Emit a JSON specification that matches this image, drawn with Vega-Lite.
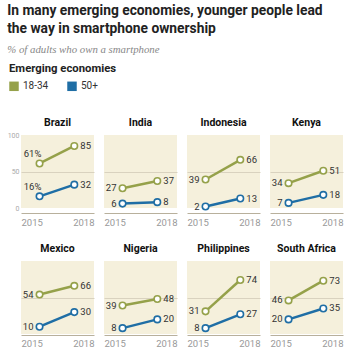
{
  "$schema": "https://vega.github.io/schema/vega-lite/v6.json",
  "padding": {"left": 7, "top": 3, "right": 4, "bottom": 0},
  "background": "white",
  "title": {
    "text": ["In many emerging economies, younger people lead", "the way in smartphone ownership"],
    "subtitle": "% of adults who own a smartphone",
    "anchor": "start",
    "font": "Roboto",
    "fontSize": 13.8,
    "fontWeight": "bold",
    "lineHeight": 18,
    "color": "#222",
    "subtitleFont": "Liberation Serif",
    "subtitleFontStyle": "italic",
    "subtitleFontSize": 10.8,
    "subtitleColor": "#888",
    "subtitlePadding": 8.5,
    "offset": 8
  },
  "data": {
    "values": [
      {"country": "Brazil", "group": "18-34", "year": 2015, "pct": 61, "label": "61%"},
      {"country": "Brazil", "group": "18-34", "year": 2018, "pct": 85, "label": "85"},
      {"country": "Brazil", "group": "50+", "year": 2015, "pct": 16, "label": "16%"},
      {"country": "Brazil", "group": "50+", "year": 2018, "pct": 32, "label": "32"},
      {"country": "India", "group": "18-34", "year": 2015, "pct": 27, "label": "27"},
      {"country": "India", "group": "18-34", "year": 2018, "pct": 37, "label": "37"},
      {"country": "India", "group": "50+", "year": 2015, "pct": 6, "label": "6"},
      {"country": "India", "group": "50+", "year": 2018, "pct": 8, "label": "8"},
      {"country": "Indonesia", "group": "18-34", "year": 2015, "pct": 39, "label": "39"},
      {"country": "Indonesia", "group": "18-34", "year": 2018, "pct": 66, "label": "66"},
      {"country": "Indonesia", "group": "50+", "year": 2015, "pct": 2, "label": "2"},
      {"country": "Indonesia", "group": "50+", "year": 2018, "pct": 13, "label": "13"},
      {"country": "Kenya", "group": "18-34", "year": 2015, "pct": 34, "label": "34"},
      {"country": "Kenya", "group": "18-34", "year": 2018, "pct": 51, "label": "51"},
      {"country": "Kenya", "group": "50+", "year": 2015, "pct": 7, "label": "7"},
      {"country": "Kenya", "group": "50+", "year": 2018, "pct": 18, "label": "18"},
      {"country": "Mexico", "group": "18-34", "year": 2015, "pct": 54, "label": "54"},
      {"country": "Mexico", "group": "18-34", "year": 2018, "pct": 66, "label": "66"},
      {"country": "Mexico", "group": "50+", "year": 2015, "pct": 10, "label": "10"},
      {"country": "Mexico", "group": "50+", "year": 2018, "pct": 30, "label": "30"},
      {"country": "Nigeria", "group": "18-34", "year": 2015, "pct": 39, "label": "39"},
      {"country": "Nigeria", "group": "18-34", "year": 2018, "pct": 48, "label": "48"},
      {"country": "Nigeria", "group": "50+", "year": 2015, "pct": 8, "label": "8"},
      {"country": "Nigeria", "group": "50+", "year": 2018, "pct": 20, "label": "20"},
      {"country": "Philippines", "group": "18-34", "year": 2015, "pct": 31, "label": "31"},
      {"country": "Philippines", "group": "18-34", "year": 2018, "pct": 74, "label": "74"},
      {"country": "Philippines", "group": "50+", "year": 2015, "pct": 8, "label": "8"},
      {"country": "Philippines", "group": "50+", "year": 2018, "pct": 27, "label": "27"},
      {"country": "South Africa", "group": "18-34", "year": 2015, "pct": 46, "label": "46"},
      {"country": "South Africa", "group": "18-34", "year": 2018, "pct": 73, "label": "73"},
      {"country": "South Africa", "group": "50+", "year": 2015, "pct": 20, "label": "20"},
      {"country": "South Africa", "group": "50+", "year": 2018, "pct": 35, "label": "35"}
    ]
  },
  "spacing": 16,
  "vconcat": [
    {
      "transform": [{"filter": {"field": "country", "oneOf": ["Brazil", "India", "Indonesia", "Kenya"]}}],
      "facet": {"column": {"field": "country", "type": "nominal", "sort": ["Brazil", "India", "Indonesia", "Kenya"], "title": null,
        "header": {"labelFont": "Roboto", "labelFontWeight": "bold", "labelFontSize": 10.5, "labelColor": "#111", "labelPadding": 7}}},
      "spacing": 10,
      "spec": {
        "width": 73,
        "height": 73,
        "encoding": {
          "x": {"field": "year", "type": "quantitative", "scale": {"domain": [2013.4, 2019.7], "nice": false, "zero": false},
            "axis": {"values": [2013.4, 2019.7], "labelExpr": "datum.value < 2016 ? '2015' : '2018'", "labelFlush": true, "ticks": false, "grid": false, "domainColor": "#b8b09c", "labelColor": "#999", "labelFontSize": 9.5, "labelFont": "Roboto", "title": null, "labelPadding": 4}},
          "y": {"field": "pct", "type": "quantitative", "scale": {"domain": [0, 100], "nice": false},
            "axis": {"values": [0, 50, 100], "labelFontSize": 7, "labelColor": "#aaa", "labelFont": "Roboto", "ticks": false, "domain": false, "labelPadding": 2, "title": null,
              "gridColor": {"condition": {"test": "datum.value === 50", "value": "#d9d2bf"}, "value": "transparent"}}},
          "color": {"field": "group", "type": "nominal", "scale": {"domain": ["18-34", "50+"], "range": ["#95a14a", "#1f6ea5"]},
            "legend": {"title": "Emerging economies", "orient": "none", "legendX": -12, "legendY": -72, "direction": "horizontal", "symbolType": "square", "symbolSize": 90, "symbolStrokeWidth": 0,
              "labelFont": "Roboto", "labelFontSize": 10, "labelColor": "#333", "titleFont": "Roboto", "titleFontSize": 11.3, "titleFontWeight": "bold", "titleColor": "#222", "titlePadding": 7, "columnPadding": 18,
              "encode": {"symbols": {"update": {"fill": {"scale": "color", "field": "value"}, "opacity": {"value": 1}}}}}}
        },
        "layer": [
          {"mark": {"type": "line", "strokeWidth": 2.5}, "encoding": {"detail": {"field": "group"}}},
          {"mark": {"type": "point", "filled": false, "fill": "white", "opacity": 1, "size": 42, "strokeWidth": 1.6}},
          {"transform": [{"filter": "datum.year == 2018"}], "mark": {"type": "text", "align": "left", "dx": 6, "fontSize": 9.5, "font": "Roboto", "color": "#333"}, "encoding": {"text": {"field": "label"}, "color": {"value": "#333"}}},
          {"transform": [{"filter": "datum.year == 2015 && datum.country != 'Brazil'"}], "mark": {"type": "text", "align": "right", "dx": -6, "fontSize": 9.5, "font": "Roboto", "color": "#333"}, "encoding": {"text": {"field": "label"}, "color": {"value": "#333"}}},
          {"transform": [{"filter": "datum.year == 2015 && datum.country == 'Brazil'"}], "mark": {"type": "text", "align": "center", "dx": -7, "dy": -9, "fontSize": 9.5, "font": "Roboto", "color": "#333"}, "encoding": {"text": {"field": "label"}, "color": {"value": "#333"}}}
        ]
      }
    },
    {
      "transform": [{"filter": {"field": "country", "oneOf": ["Mexico", "Nigeria", "Philippines", "South Africa"]}}],
      "facet": {"column": {"field": "country", "type": "nominal", "sort": ["Mexico", "Nigeria", "Philippines", "South Africa"], "title": null,
        "header": {"labelFont": "Roboto", "labelFontWeight": "bold", "labelFontSize": 10.5, "labelColor": "#111", "labelPadding": 7}}},
      "spacing": 10,
      "spec": {
        "width": 73,
        "height": 73,
        "encoding": {
          "x": {"field": "year", "type": "quantitative", "scale": {"domain": [2013.4, 2019.7], "nice": false, "zero": false},
            "axis": {"values": [2013.4, 2019.7], "labelExpr": "datum.value < 2016 ? '2015' : '2018'", "labelFlush": true, "ticks": false, "grid": false, "domainColor": "#b8b09c", "labelColor": "#999", "labelFontSize": 9.5, "labelFont": "Roboto", "title": null, "labelPadding": 3}},
          "y": {"field": "pct", "type": "quantitative", "scale": {"domain": [0, 100], "nice": false},
            "axis": {"values": [0, 50, 100], "labelFontSize": 7, "labelColor": "transparent", "labelFont": "Roboto", "ticks": false, "domain": false, "labelPadding": 2, "title": null,
              "gridColor": {"condition": {"test": "datum.value === 50", "value": "#d9d2bf"}, "value": "transparent"}}},
          "color": {"field": "group", "type": "nominal", "scale": {"domain": ["18-34", "50+"], "range": ["#95a14a", "#1f6ea5"]}}
        },
        "layer": [
          {"mark": {"type": "line", "strokeWidth": 2.5}, "encoding": {"detail": {"field": "group"}}},
          {"mark": {"type": "point", "filled": false, "fill": "white", "opacity": 1, "size": 42, "strokeWidth": 1.6}},
          {"transform": [{"filter": "datum.year == 2018"}], "mark": {"type": "text", "align": "left", "dx": 6, "fontSize": 9.5, "font": "Roboto", "color": "#333"}, "encoding": {"text": {"field": "label"}, "color": {"value": "#333"}}},
          {"transform": [{"filter": "datum.year == 2015"}], "mark": {"type": "text", "align": "right", "dx": -6, "fontSize": 9.5, "font": "Roboto", "color": "#333"}, "encoding": {"text": {"field": "label"}, "color": {"value": "#333"}}}
        ]
      }
    }
  ],
  "config": {
    "view": {"fill": "#f5f0dc", "stroke": null}
  }
}
